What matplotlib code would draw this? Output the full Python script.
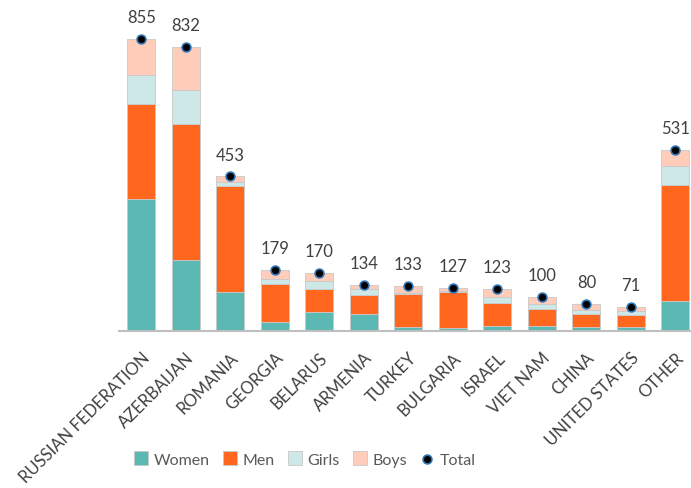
import matplotlib.pyplot as plt
import numpy as np

# Datos
paises = ['RUSSIAN FEDERATION', 'AZERBAIJAN', 'ROMANIA', 'GEORGIA', 'BELARUS',
          'ARMENIA', 'TURKEY', 'BULGARIA', 'ISRAEL', 'VIET NAM', 'CHINA',
          'UNITED STATES', 'OTHER']
women = [387, 208, 114, 27, 56, 49, 12, 8, 14, 14, 12, 12, 87]
men = [277, 398, 312, 112, 67, 56, 96, 107, 67, 50, 39, 35, 340]
girls = [86, 100, 10, 13, 24, 17, 2, 3, 19, 14, 10, 12, 56]
boys = [105, 126, 17, 27, 23, 12, 23, 9, 23, 22, 19, 12, 48]
total = [855, 832, 453, 179, 170, 134, 133, 127, 123, 100, 80, 71, 531]

plt.rcParams['font.family'] = ['Lato', 'DejaVu Sans']

fig = plt.figure(figsize=(6.91, 4.89), dpi=100)
ax = fig.add_axes([119 / 691, 1 - 332 / 489, 1 - 119 / 691, 332 / 489])

x = np.arange(len(paises))
w = 0.63
edge = '#c9c9c9'
b = np.zeros(len(paises))
series = [(women, '#5bb8b2', 'Women'), (men, '#ff671f', 'Men'),
          (girls, '#cde8e6', 'Girls'), (boys, '#ffcdba', 'Boys')]
handles = []
for vals, col, lab in series:
    h = ax.bar(x, vals, w, bottom=b, color=col, edgecolor=edge, linewidth=0.6, label=lab)
    handles.append(h)
    b = b + np.array(vals)

sc = ax.scatter(x, total, s=40, color='black', edgecolors='#2e75b6', linewidths=1.2,
                zorder=3, label='Total')
handles.append(sc)
for xi, t in zip(x, total):
    ax.annotate(str(t), (xi, t), xytext=(0, 10), textcoords='offset points',
                ha='center', va='bottom', fontsize=12, color='#404040')

ax.set_xlim(-0.5, 12.35)
ax.set_ylim(0, 973)
for s in ['top', 'right', 'left']:
    ax.spines[s].set_visible(False)
ax.spines['bottom'].set_color('#bfbfbf')
ax.spines['bottom'].set_linewidth(1.5)
ax.set_yticks([])
ax.set_xticks(x)
ax.set_xticklabels(paises, rotation=45, ha='right', rotation_mode='anchor',
                   fontsize=12, color='#404040')
ax.tick_params(axis='x', length=0, pad=13)

ax.legend(handles=handles, labels=['Women', 'Men', 'Girls', 'Boys', 'Total'],
          loc='center', bbox_to_anchor=(305 / 691, 1 - 460 / 489), bbox_transform=fig.transFigure,
          ncol=5, frameon=False, fontsize=11.5, handlelength=0.9, handleheight=0.9,
          handletextpad=0.35, columnspacing=0.8, labelcolor='#595959')

fig.savefig('out.png', dpi=100)
